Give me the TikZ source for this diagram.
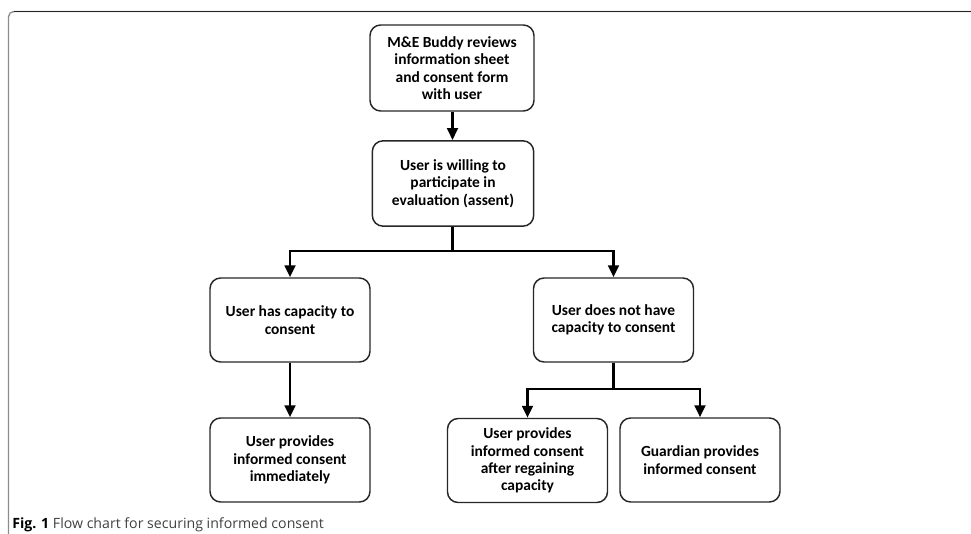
\documentclass[tikz,border=0pt]{standalone}
\usepackage{fontspec}
\setmainfont{Carlito}
\newfontfamily\capfont{Open Sans}
\usetikzlibrary{arrows.meta}
\tikzset{
  box/.style={draw=black!85, line width=1.1pt, rounded corners=8pt, minimum width=120pt, minimum height=63pt,
    align=center, font=\fontsize{11.6}{13}\selectfont\bfseries, inner sep=2pt},
  conn/.style={line width=2pt, -{Triangle[length=9pt,width=8pt]}},
  plain/.style={line width=2pt}
}
\begin{document}
\begin{tikzpicture}[x=0.75pt,y=-0.75pt]
\useasboundingbox (0,0) rectangle (971,534);
% frame
\draw[black!45, line width=1pt, rounded corners=4pt] (8.5,534) -- (8.5,11.5) -- (971,11.5);
\draw[black!85, line width=1pt] (14,11.5) -- (971,11.5);
% nodes
\node[box, minimum width=123pt, minimum height=64.5pt] (n1) at (452,68) {M\&E Buddy reviews\\information sheet\\and consent form\\with user};
\node[box, minimum width=121pt, minimum height=64pt] (n2) at (453,183.5) {User is willing to\\participate in\\evaluation (assent)};
\node[box] (n3) at (290,320) {User has capacity to\\consent};
\node[box] (n4) at (613.5,320) {User does not have\\capacity to consent};
\node[box] (n5) at (290,460) {User provides\\informed consent\\immediately};
\node[box] (n6) at (527.5,460.5) {User provides\\informed consent\\after regaining\\capacity};
\node[box] (n7) at (700,460) {Guardian provides\\informed consent};
% junctions
\coordinate (j1) at (452.5,251);
\coordinate (j2) at (613.5,389);
% connectors
\draw[conn] (n1.south -| j1) -- (n2.north -| j1);
\draw[plain] (n2.south -| j1) -- (j1);
\draw[conn] (j1) -| (n3);
\draw[conn] (j1) -| (n4);
\draw[conn] (n3) -- (n5);
\draw[plain] (n4) -- (j2);
\draw[conn] (j2) -| (n6);
\draw[conn] (j2) -| (n7);
% caption
\node[anchor=base west, inner sep=0pt, font=\capfont\fontsize{10.6}{12}\selectfont, text=black!75] (cap) at (12,528.5)
  {{\bfseries\color{black}Fig. 1} Flow chart for securing informed consent};
\end{tikzpicture}
\end{document}
